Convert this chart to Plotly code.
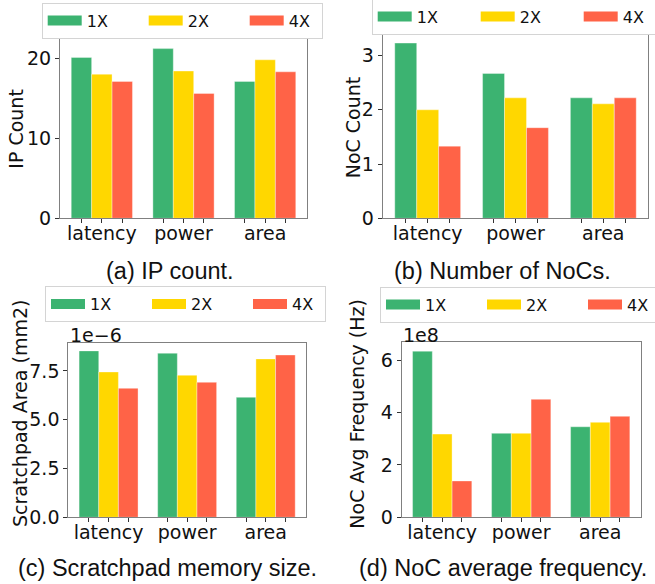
import plotly.graph_objects as go
import numpy as np

# ---------------- data ----------------
categories = ["latency", "power", "area"]
series_names = ["1X", "2X", "4X"]
series_colors = ["#3CB371", "#FFD700", "#FF6347"]

ip_1x = [20.1, 21.2, 17.1]
ip_2x = [18.0, 18.4, 19.8]
ip_4x = [17.1, 15.6, 18.3]

noc_1x = [3.23, 2.67, 2.22]
noc_2x = [2.00, 2.22, 2.11]
noc_4x = [1.33, 1.67, 2.22]

spm_1x = [8.53e-6, 8.41e-6, 6.15e-6]
spm_2x = [7.45e-6, 7.28e-6, 8.12e-6]
spm_4x = [6.61e-6, 6.92e-6, 8.32e-6]

freq_1x = [6.35e8, 3.21e8, 3.46e8]
freq_2x = [3.18e8, 3.21e8, 3.63e8]
freq_4x = [1.39e8, 4.51e8, 3.86e8]

ip_ticks = [0, 10, 20]
noc_ticks = [0, 1, 2, 3]
spm_ticks = [0, 2.5e-6, 5.0e-6, 7.5e-6]
spm_ticktext = ["0.0", "2.5", "5.0", "7.5"]
freq_ticks = [0, 2e8, 4e8, 6e8]
freq_ticktext = ["0", "2", "4", "6"]

captions = ["(a) IP count.", "(b) Number of NoCs.",
            "(c) Scratchpad memory size.", "(d) NoC average frequency."]
ytitles = ["IP Count", "NoC Count", "Scratchpad Area (mm2)", "NoC Avg Frequency (Hz)"]

# ---------------- layout helpers ----------------
W, H = 655, 584
def fx(p):
    return p / W
def fy(p):
    return 1 - p / H

bar_w = 0.25
offsets = [-0.25, 0.0, 0.25]
idx = np.arange(len(categories))

panels = [
    dict(vals=[ip_1x, ip_2x, ip_4x], xd=(60, 307), yd=(39, 218.3), yr=[0, 22.4],
         tv=ip_ticks, tt=[str(t) for t in ip_ticks], leg=(41.7, 20.5, 101), title_xy=(15.7, 129)),
    dict(vals=[noc_1x, noc_2x, noc_4x], xd=(382.7, 648.3), yd=(33.3, 218.3), yr=[0, 3.41],
         tv=noc_ticks, tt=[str(t) for t in noc_ticks], leg=(371.7, 16.7, 103), title_xy=(352.8, 127.5)),
    dict(vals=[spm_1x, spm_2x, spm_4x], xd=(68.3, 306), yd=(342.7, 517.3), yr=[0, 8.95e-6],
         tv=spm_ticks, tt=spm_ticktext, leg=(45, 304, 101), title_xy=(20, 414)),
    dict(vals=[freq_1x, freq_2x, freq_4x], xd=(401.7, 640.7), yd=(342.3, 517.3), yr=[0, 6.69e8],
         tv=freq_ticks, tt=freq_ticktext, leg=(380, 304.5, 101), title_xy=(356.7, 414)),
]

tick_font = dict(family="DejaVu Sans", size=19, color="#111111")
fig = go.Figure()
layout = dict(
    width=W, height=H,
    margin=dict(l=0, r=0, t=0, b=0, autoexpand=False),
    paper_bgcolor="white", plot_bgcolor="white",
    barmode="overlay", showlegend=True,
    annotations=[],
)

xtick_vals = [i + o for i in idx for o in offsets]
xtick_text = [categories[i] if o == 0 else "" for i in idx for o in offsets]

for p_i, p in enumerate(panels):
    n = "" if p_i == 0 else str(p_i + 1)
    xa, ya = "x" + n, "y" + n
    lg = "legend" + n
    for s_i, (vals, name, col) in enumerate(zip(p["vals"], series_names, series_colors)):
        fig.add_trace(go.Bar(
            x=idx + offsets[s_i], y=vals, width=bar_w,
            marker=dict(color=col, line=dict(color="rgba(255,255,255,0.6)", width=0.6)),
            name=name, showlegend=False, xaxis=xa, yaxis=ya,
        ))
        fig.add_trace(go.Scatter(
            x=[None], y=[None], mode="lines", name=name,
            line=dict(color=col, width=12), legend=lg, xaxis=xa, yaxis=ya,
            legendwidth=(28 if s_i == 2 else None),
        ))
    lx, ly, pitch = p["leg"]
    layout[lg] = dict(
        x=fx(lx), y=fy(ly), xanchor="left", yanchor="middle", orientation="h",
        font=dict(family="DejaVu Sans", size=16, color="#111111"),
        bordercolor="#d4d4d4", borderwidth=1, bgcolor="white",
        itemwidth=34, entrywidth=pitch - 49, entrywidthmode="pixels",
        traceorder="normal",
    )
    layout["xaxis" + n] = dict(
        domain=[fx(p["xd"][0]), fx(p["xd"][1])], anchor=ya,
        range=[-0.5125, 2.5125], tickmode="array", tickvals=xtick_vals, ticktext=xtick_text,
        ticks="outside", ticklen=4, tickcolor="#333333", tickfont=tick_font,
        ticklabelstandoff=-6,
        showline=True, mirror=True, linecolor="#808080", linewidth=1,
        showgrid=False, zeroline=False, fixedrange=True,
    )
    layout["yaxis" + n] = dict(
        domain=[fy(p["yd"][1]), fy(p["yd"][0])], anchor=xa,
        range=p["yr"], tickmode="array", tickvals=p["tv"], ticktext=p["tt"],
        ticks="outside", ticklen=4, tickcolor="#333333", tickfont=tick_font,
        showline=True, mirror=True, linecolor="#808080", linewidth=1,
        showgrid=False, zeroline=False, fixedrange=True,
    )
    # y axis title
    tx, ty = p["title_xy"]
    layout["annotations"].append(dict(
        text=ytitles[p_i], x=fx(tx), y=fy(ty), xref="paper", yref="paper",
        xanchor="center", yanchor="middle", textangle=-90, showarrow=False,
        font=dict(family="DejaVu Sans", size=19, color="#111111"),
    ))

# captions
cap_pos = [(170, 271), (502.5, 271), (167.5, 568), (502.5, 568)]
for c, (cx, cy) in zip(captions, cap_pos):
    layout["annotations"].append(dict(
        text=c, x=fx(cx), y=fy(cy), xref="paper", yref="paper",
        xanchor="center", yanchor="middle", showarrow=False,
        font=dict(family="Liberation Sans", size=23.5, color="#111111"),
    ))

# exponent offset labels
for txt, (ox, oy) in [("1e\u22126", (68, 335)), ("1e8", (401, 335))]:
    layout["annotations"].append(dict(
        text=txt, x=fx(ox), y=fy(oy), xref="paper", yref="paper",
        xanchor="left", yanchor="middle", showarrow=False,
        font=dict(family="DejaVu Sans", size=19, color="#111111"),
    ))

fig.update_layout(**layout)
fig.write_html("out.html")
